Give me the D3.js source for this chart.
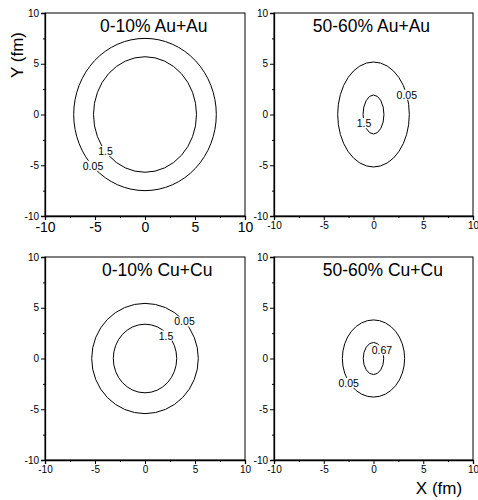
<!DOCTYPE html>
<html>
<head>
<meta charset="utf-8">
<script src="https://cdn.jsdelivr.net/npm/d3@7"></script>
<style>
  body { margin: 0; background: #fff; }
  svg text { font-family: "Liberation Sans", Arial, sans-serif; fill: #000; }
</style>
</head>
<body>
<svg id="chart" width="478" height="500"></svg>
<script>
// panel titles
const titles = ["0-10% Au+Au", "50-60% Au+Au", "0-10% Cu+Cu", "50-60% Cu+Cu"];
// contour levels per panel (outer, inner)
const levels = [["0.05", "1.5"], ["0.05", "1.5"], ["0.05", "1.5"], ["0.05", "0.67"]];
// contour half-widths (fm) along X, per panel [outer, inner]
const radiusX = [[7.13, 5.15], [3.6, 1.05], [5.33, 3.17], [3.13, 1.03]];
// contour half-heights (fm) along Y
const radiusY = [[7.5, 5.69], [5.17, 1.92], [5.43, 3.38], [3.8, 1.58]];
// tick values
const majorTicks = [-10, -5, 0, 5, 10];
const minorTicks = [-7.5, -2.5, 2.5, 7.5];

// label positions in data coords (layout)
const labelPos = [
  [[-5.2, -5.05], [-3.95, -3.6]],
  [[3.35, 1.95], [-0.95, -0.85]],
  [[3.95, 3.65], [2.1, 2.25]],
  [[-2.5, -2.4], [0.85, 0.8]]
];

const panels = [
  {x0: 45, x1: 245, y0: 13, y1: 216, tx: -4.5, xFont: 14},
  {x0: 274, x1: 473, y0: 13, y1: 216, tx: -6.1, xFont: 10},
  {x0: 45, x1: 245, y0: 257, y1: 460, tx: -4.3, xFont: 10},
  {x0: 274, x1: 473, y0: 257, y1: 460, tx: -5.1, xFont: 10}
];

const svg = d3.select("#chart");

panels.forEach((p, i) => {
  const x = d3.scaleLinear().domain([-10, 10]).range([p.x0, p.x1]);
  const y = d3.scaleLinear().domain([-10, 10]).range([p.y1, p.y0]);
  const g = svg.append("g");

  // frame
  g.append("rect")
    .attr("x", p.x0).attr("y", p.y0)
    .attr("width", p.x1 - p.x0).attr("height", p.y1 - p.y0)
    .attr("fill", "none").attr("stroke", "#000").attr("stroke-width", 1);

  // contours
  radiusX[i].forEach((rx, k) => {
    g.append("ellipse")
      .attr("cx", x(0)).attr("cy", y(0))
      .attr("rx", x(rx) - x(0))
      .attr("ry", y(0) - y(radiusY[i][k]))
      .attr("fill", "none").attr("stroke", "#000").attr("stroke-width", 1);
  });

  // contour labels with a white patch to break the line
  levels[i].forEach((lv, k) => {
    const [lx, ly] = labelPos[i][k];
    const t = g.append("text")
      .attr("x", x(lx)).attr("y", y(ly))
      .attr("text-anchor", "middle")
      .attr("dominant-baseline", "central")
      .style("font-size", "10.5px")
      .text(lv);
    const bb = t.node().getBBox();
    g.insert("rect", "text")
      .attr("x", bb.x - 1).attr("y", bb.y + 1)
      .attr("width", bb.width + 2).attr("height", bb.height - 2)
      .attr("fill", "#fff");
  });

  // axes
  const fmt = d => String(d);
  const yAxis = g.append("g")
    .attr("transform", `translate(${p.x0},0)`)
    .call(d3.axisLeft(y).tickValues(majorTicks).tickSize(4).tickPadding(2)
      .tickFormat(fmt));
  yAxis.selectAll("text").style("font-size", "10px");
  g.append("g")
    .attr("transform", `translate(${p.x0},0)`)
    .call(d3.axisLeft(y).tickValues(minorTicks).tickSize(2).tickFormat(""))
    .select(".domain").remove();

  const xAxis = g.append("g")
    .attr("transform", `translate(0,${p.y1})`)
    .call(d3.axisBottom(x).tickValues(majorTicks).tickSize(4).tickPadding(2)
      .tickFormat(fmt));
  xAxis.selectAll("text").style("font-size", p.xFont + "px");
  g.append("g")
    .attr("transform", `translate(0,${p.y1})`)
    .call(d3.axisBottom(x).tickValues(minorTicks).tickSize(2).tickFormat(""))
    .select(".domain").remove();

  g.selectAll(".domain").attr("stroke-width", 1.3);
  g.selectAll(".tick line").attr("stroke-width", 1);

  // panel title
  g.append("text")
    .attr("x", x(p.tx)).attr("y", p.y0 + 19)
    .style("font-size", "17.5px")
    .text(titles[i]);
});

// axis titles
svg.append("text")
  .attr("transform", "translate(23,55) rotate(-90)")
  .attr("text-anchor", "middle")
  .style("font-size", "17px")
  .text("Y (fm)");

svg.append("text")
  .attr("x", 439).attr("y", 494)
  .attr("text-anchor", "middle")
  .style("font-size", "17px")
  .text("X (fm)");
</script>
</body>
</html>
